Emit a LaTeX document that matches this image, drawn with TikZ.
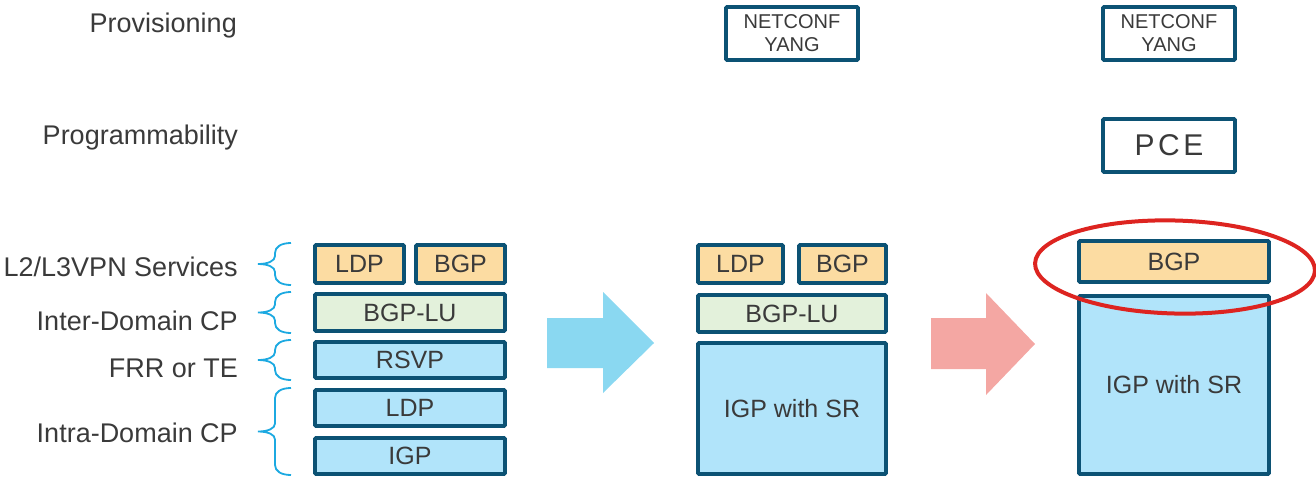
\documentclass[tikz,border=0pt]{standalone}
\usepackage{fontspec}
\setmainfont{Liberation Sans}
\newfontfamily\spacedfont[LetterSpace=12]{Liberation Sans}

\definecolor{edge}{HTML}{0C5274}
\definecolor{ink}{HTML}{3A3A3A}
\definecolor{svcfill}{HTML}{FCDCA2}
\definecolor{lufill}{HTML}{E3F1DB}
\definecolor{igpfill}{HTML}{B1E4FA}
\definecolor{bracecol}{HTML}{1CA9E1}
\definecolor{stepblue}{HTML}{8AD8F1}
\definecolor{steppink}{HTML}{F4A7A3}
\definecolor{highlight}{HTML}{DD2420}

% curly brace opening to the left: #1 = top y, #2 = bottom y
\newcommand\layerbrace[2]{%
  \pgfmathsetmacro\bracemid{(#1+#2)/2}%
  \draw[bracestyle]
    (291,#1) .. controls (281,#1) and (275,#1+4) .. (275,#1+10)
    -- (275,\bracemid-8)
    .. controls (275,\bracemid-3) and (268,\bracemid) .. (258,\bracemid)
    .. controls (268,\bracemid) and (275,\bracemid+3) .. (275,\bracemid+8)
    -- (275,#2-10)
    .. controls (275,#2-4) and (281,#2) .. (291,#2);}

\begin{document}
\begin{tikzpicture}[x=1pt,y=-1pt,
  layer/.style={draw=edge, line width=3.6pt, rounded corners=1pt, inner sep=0pt,
    text=ink, font=\fontsize{25}{29}\selectfont},
  sz/.style 2 args={minimum width=#1pt, minimum height=#2pt},
  svc/.style={layer, fill=svcfill},
  labelled/.style={layer, fill=lufill},
  igplayer/.style={layer, fill=igpfill},
  mgmt/.style={layer, fill=white, align=center, font=\fontsize{20}{23}\selectfont},
  sidelabel/.style={anchor=base east, inner sep=0pt, text=ink,
    font=\fontsize{27}{31}\selectfont},
  bracestyle/.style={draw=bracecol, line width=1.8pt}
]
\useasboundingbox (0,0) rectangle (1316,477);

% row labels
\node[sidelabel] (lprov) at (237,32) {Provisioning};
\node[sidelabel] (lprog) at (238,144) {Programmability};
\node[sidelabel] (lsvc) at (238,276) {L2/L3VPN Services};
\node[sidelabel] (linter) at (238,330) {Inter-Domain CP};
\node[sidelabel] (lfrr) at (238,377) {FRR or TE};
\node[sidelabel] (lintra) at (238,442) {Intra-Domain CP};

% braces
\layerbrace{243}{285}
\layerbrace{292}{333}
\layerbrace{340}{380}
\layerbrace{388}{475}

% legacy stack
\node[svc, sz={89}{38}] (aldp) at (359.5,264) {LDP};
\node[svc, sz={89}{38}] (abgp) at (460.5,264) {BGP};
\node[labelled, sz={190}{37}] (alu) at (410,312.5) {BGP-LU};
\node[igplayer, sz={190}{36}] (arsvp) at (410,360) {RSVP};
\node[igplayer, sz={190}{36}] (aldp2) at (410,408) {LDP};
\node[igplayer, sz={190}{36}] (aigp) at (410,456) {IGP};

% transition arrows
\fill[stepblue] (547,318) -- (603,318) -- (603,292) -- (654,343)
  -- (603,393) -- (603,368) -- (547,368) -- cycle;
\fill[steppink] (931,318) -- (986,318) -- (986,293) -- (1035,344)
  -- (986,395) -- (986,369) -- (931,369) -- cycle;

% intermediate stack
\node[mgmt, sz={132}{53}] (bnc) at (792,33.5) {NETCONF\\YANG};
\node[svc, sz={85}{38}] (bldp) at (740.5,264) {LDP};
\node[svc, sz={87}{38}] (bbgp) at (842.5,264) {BGP};
\node[labelled, sz={188}{37}] (blu) at (792,313.5) {BGP-LU};
\node[igplayer, sz={188}{131}] (bigp) at (792,408.5) {IGP with SR};

% target stack
\node[mgmt, sz={132}{53}] (cnc) at (1169,33.5) {NETCONF\\YANG};
\node[mgmt, sz={132}{53}, font=\fontsize{30}{34}\spacedfont] (cpce) at (1169,145.5) {PCE};
\node[svc, sz={190}{41}] (cbgp) at (1174,261.5) {BGP};
\node[igplayer, sz={190}{178}] (cigp) at (1174,385) {IGP with SR};

% emphasis ring
\draw[highlight, line width=4pt, rotate around={-1.5:(1175,267)}]
  (1175,267) ellipse [x radius=140, y radius=46.5];
\end{tikzpicture}
\end{document}
